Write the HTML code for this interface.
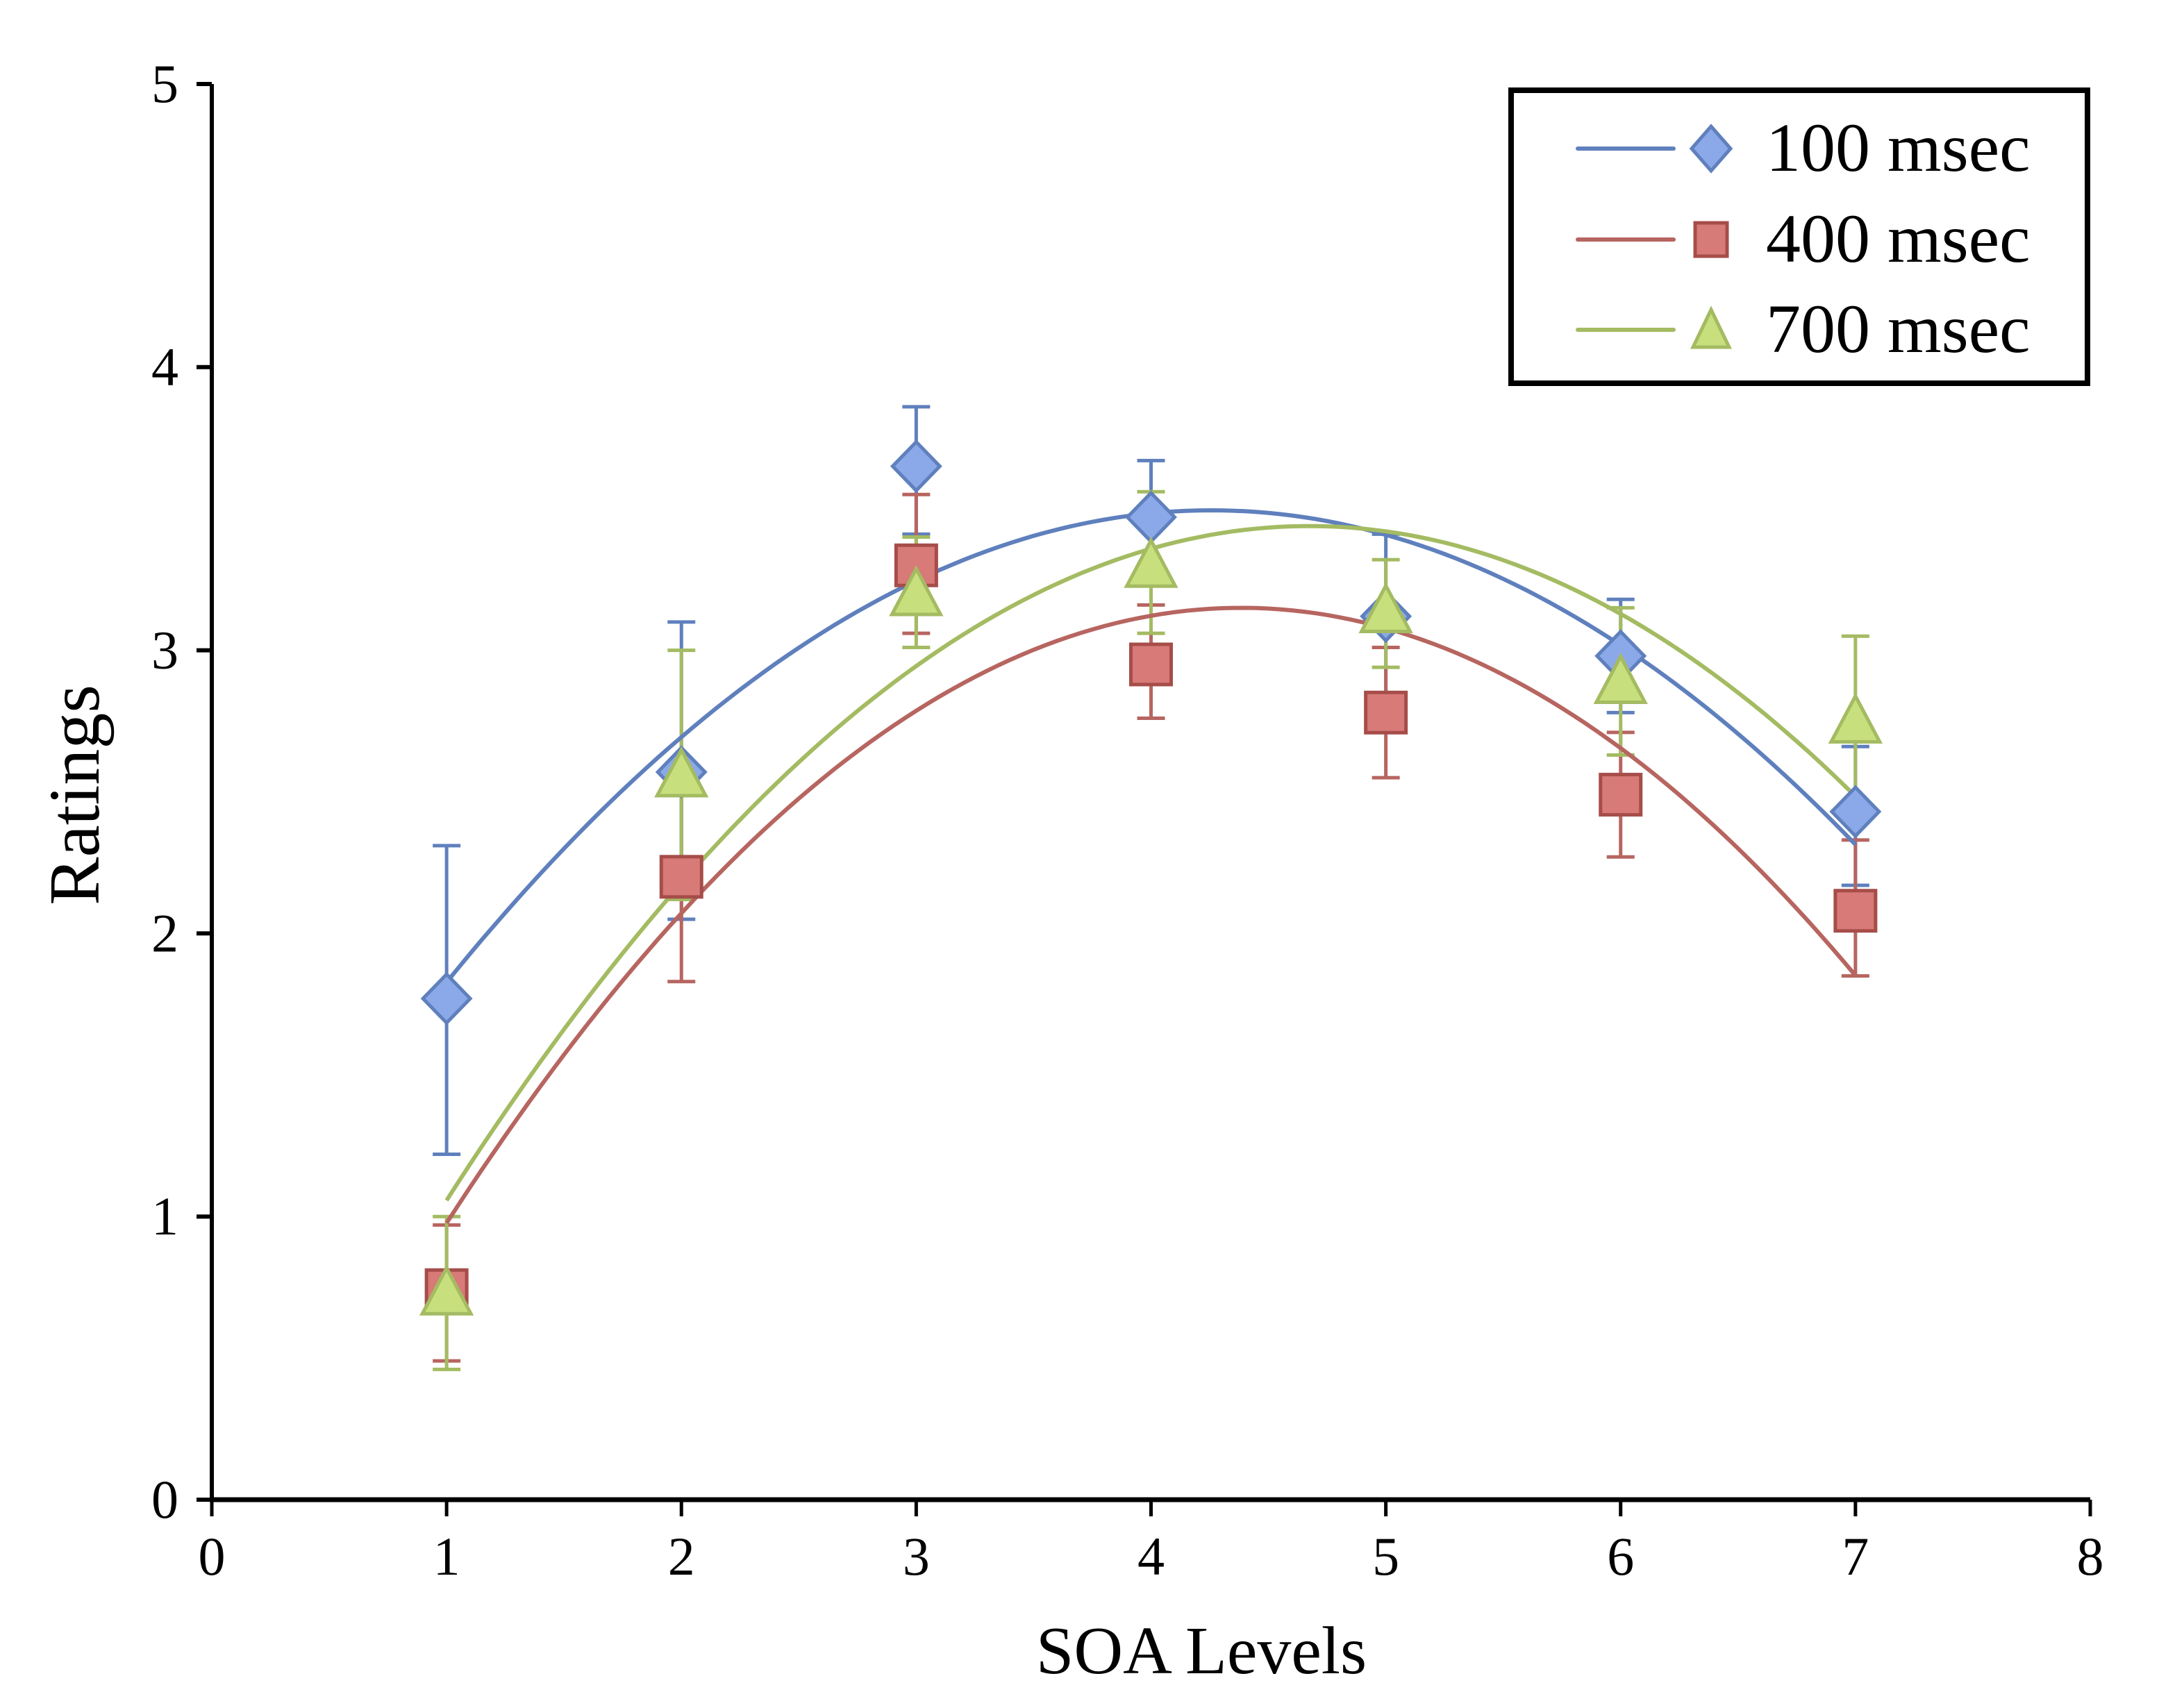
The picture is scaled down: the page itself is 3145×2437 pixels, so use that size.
<!DOCTYPE html>
<html><head><meta charset="utf-8"><style>
html,body{margin:0;padding:0;background:#fff}
svg{display:block}
text{font-family:"Liberation Serif",serif;fill:#000}
</style></head><body>
<svg id="chart" width="3145" height="2437" viewBox="0 0 3145 2437" xmlns="http://www.w3.org/2000/svg">
<rect width="3145" height="2437" fill="#fff"/>
<g id="axes"></g>
<g id="plot"></g>
<text x="1730" y="2410" font-size="98" text-anchor="middle">SOA Levels</text>
<text x="0" y="0" font-size="104" text-anchor="middle" transform="translate(142,1145) rotate(-90)">Ratings</text>
<g>
<rect x="2176" y="130" width="830" height="422" fill="#fff" stroke="#000" stroke-width="8"/>
<g>
<line x1="2272" y1="214" x2="2410" y2="214" stroke="#5f80bd" stroke-width="6" stroke-linecap="round"/>
<polygon points="2464,182 2492,214 2464,246 2436,214" fill="#8ba9e8" stroke="#5f80bd" stroke-width="5"/>
<text x="2543" y="246" font-size="100">100 msec</text></g>
<g>
<line x1="2272" y1="345" x2="2410" y2="345" stroke="#b76560" stroke-width="6" stroke-linecap="round"/>
<rect x="2441" y="321" width="46" height="48" fill="#d77a78" stroke="#a64d4a" stroke-width="5"/>
<text x="2543" y="377" font-size="100">400 msec</text></g>
<g>
<line x1="2272" y1="475" x2="2410" y2="475" stroke="#a4bb62" stroke-width="6" stroke-linecap="round"/>
<polygon points="2464,446 2490,500 2438,500" fill="#c7df7c" stroke="#a4bb62" stroke-width="5"/>
<text x="2543" y="507" font-size="100">700 msec</text></g>
</g>
</svg>
<script>
const xCategories=[1,2,3,4,5,6,7];
const xTicks=[0,1,2,3,4,5,6,7,8];
const yTicks=[0,1,2,3,4,5];
const mean100=[1.77,2.57,3.65,3.47,3.12,2.98,2.43];
const errHi100=[2.31,3.10,3.86,3.67,3.41,3.18,2.66];
const errLo100=[1.22,2.05,3.41,3.28,2.84,2.78,2.17];
const mean400=[0.74,2.20,3.30,2.95,2.78,2.49,2.08];
const errHi400=[0.97,2.57,3.55,3.16,3.01,2.71,2.33];
const errLo400=[0.49,1.83,3.06,2.76,2.55,2.27,1.85];
const mean700=[0.73,2.56,3.20,3.30,3.14,2.89,2.75];
const errHi700=[1.00,3.00,3.40,3.56,3.32,3.15,3.05];
const errLo700=[0.46,2.12,3.01,3.06,2.94,2.63,2.45];

const NS="http://www.w3.org/2000/svg";
const X0=305,X1=3010,Y0=2160,Y1=121;
const xs=v=>X0+(X1-X0)*v/8;
const ys=v=>Y0-(Y0-Y1)*v/5;
function mk(tag,attrs,parent){const e=document.createElementNS(NS,tag);for(const k in attrs)e.setAttribute(k,attrs[k]);parent.appendChild(e);return e;}
const axes=document.getElementById('axes'),plot=document.getElementById('plot');

const ya=mk('line',{x1:X0,y1:Y1,x2:X0,y2:Y0,stroke:'#000','stroke-width':6},axes);


const xa=mk('line',{x1:X0-3,y1:Y0,x2:X1,y2:Y0,stroke:'#000','stroke-width':7},axes);


yTicks.forEach(t=>{
  mk('line',{x1:X0-22,y1:ys(t),x2:X0,y2:ys(t),stroke:'#000','stroke-width':6},axes);
  const tx=mk('text',{x:X0-48,y:ys(t)+26,'font-size':78,'text-anchor':'end'},axes);
  tx.textContent=t;
  
  
});
xTicks.forEach(t=>{
  mk('line',{x1:xs(t),y1:Y0,x2:xs(t),y2:Y0+24,stroke:'#000','stroke-width':5},axes);
  const tx=mk('text',{x:xs(t),y:Y0+108,'font-size':78,'text-anchor':'middle'},axes);
  tx.textContent=t;
  
  
});

function fitQuad(xv,yv){
  let S=[0,0,0,0,0],T=[0,0,0];
  xv.forEach((x,i)=>{for(let p=0;p<5;p++)S[p]+=Math.pow(x,p);for(let p=0;p<3;p++)T[p]+=yv[i]*Math.pow(x,p);});
  const A=[[S[0],S[1],S[2],T[0]],[S[1],S[2],S[3],T[1]],[S[2],S[3],S[4],T[2]]];
  for(let i=0;i<3;i++){for(let j=i+1;j<3;j++){const f=A[j][i]/A[i][i];for(let k=i;k<4;k++)A[j][k]-=f*A[i][k];}}
  const c=[0,0,0];
  for(let i=2;i>=0;i--){let s=A[i][3];for(let k=i+1;k<3;k++)s-=A[i][k]*c[k];c[i]=s/A[i][i];}
  return c;
}
const series=[
 {name:'100',m:mean100,hi:errHi100,lo:errLo100,line:'#5f80bd',fill:'#8ba9e8',stroke:'#5f80bd',shape:'diamond'},
 {name:'400',m:mean400,hi:errHi400,lo:errLo400,line:'#b76560',fill:'#d77a78',stroke:'#a64d4a',shape:'square'},
 {name:'700',m:mean700,hi:errHi700,lo:errLo700,line:'#a4bb62',fill:'#c7df7c',stroke:'#a4bb62',shape:'triangle'}
];
series.forEach(s=>{
  const g=mk('g',{},plot);
  
  
  xCategories.forEach((x,i)=>{
    const cx=xs(x);
    mk('line',{x1:cx,y1:ys(s.hi[i]),x2:cx,y2:ys(s.lo[i]),stroke:s.line,'stroke-width':5},g);
    mk('line',{x1:cx-20,y1:ys(s.hi[i]),x2:cx+20,y2:ys(s.hi[i]),stroke:s.line,'stroke-width':5},g);
    mk('line',{x1:cx-20,y1:ys(s.lo[i]),x2:cx+20,y2:ys(s.lo[i]),stroke:s.line,'stroke-width':5},g);
  });
});
series.forEach(s=>{
  const c=fitQuad(xCategories,s.m);
  let d='';
  for(let k=0;k<=120;k++){const x=1+6*k/120;const y=c[0]+c[1]*x+c[2]*x*x;d+=(k?'L':'M')+xs(x).toFixed(1)+','+ys(y).toFixed(1);}
  const p=mk('path',{d:d,fill:'none',stroke:s.line,'stroke-width':6},plot);
  
  
});
series.forEach(s=>{
  xCategories.forEach((x,i)=>{
    const cx=xs(x),cy=ys(s.m[i]);let e;
    if(s.shape==='diamond')e=mk('polygon',{points:`${cx},${cy-35} ${cx+34},${cy} ${cx},${cy+35} ${cx-34},${cy}`,fill:s.fill,stroke:s.stroke,'stroke-width':5},plot);
    else if(s.shape==='square')e=mk('rect',{x:cx-29,y:cy-29,width:58,height:58,fill:s.fill,stroke:s.stroke,'stroke-width':5},plot);
    else e=mk('polygon',{points:`${cx},${cy-36} ${cx+35},${cy+30} ${cx-35},${cy+30}`,fill:s.fill,stroke:s.stroke,'stroke-width':5},plot);
    
    
  });
});
</script>
</body></html>
